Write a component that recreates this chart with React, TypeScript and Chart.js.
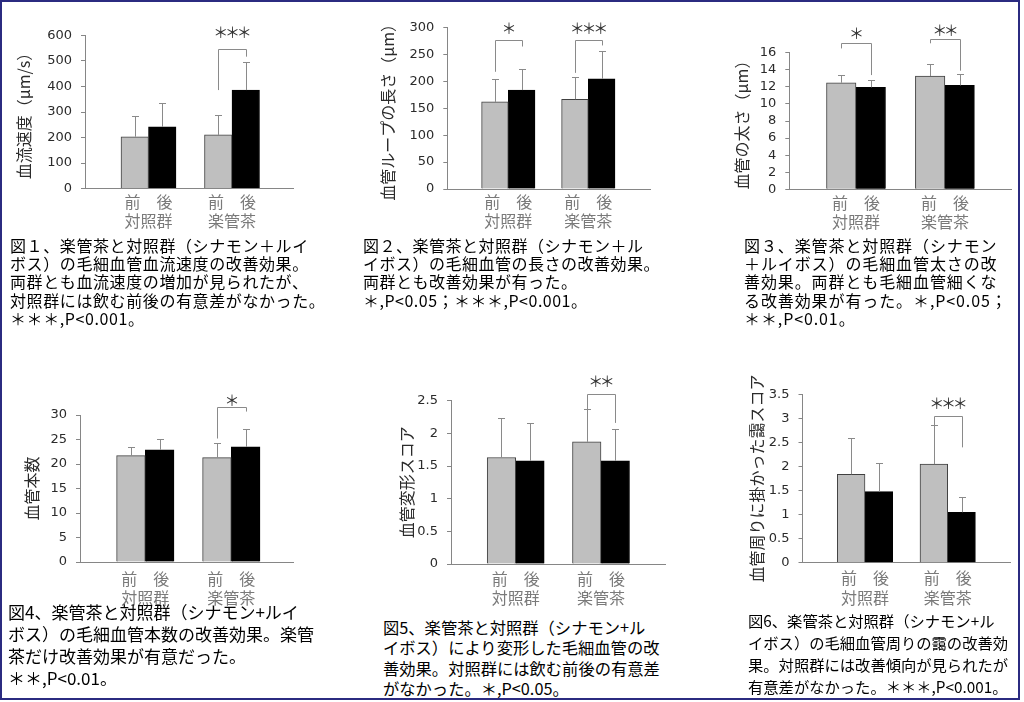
import React, { useEffect, useRef } from 'react';
import { Chart, registerables } from 'chart.js';

Chart.register(...registerables);

// ---------------- data ----------------
const GROUPS = ['対照群', '楽管茶'];
const PHASES = '前　後';

const TITLE_1 = '血流速度（μm/s）';
const YTICKS_1 = [0, 100, 200, 300, 400, 500, 600];
const BEFORE_1 = [203, 210];
const BEFORE_SD_1 = [81, 78];
const AFTER_1 = [242, 386];
const AFTER_SD_1 = [92, 111];
const SIG_1 = [{ group: 1, leftEnd: 386, top: 549, rightEnd: 517, mark: '＊＊＊', markAt: 612 }];

const TITLE_2 = '血管ループの長さ（μm）';
const YTICKS_2 = [0, 50, 100, 150, 200, 250, 300];
const BEFORE_2 = [162, 167];
const BEFORE_SD_2 = [43, 41];
const AFTER_2 = [184, 205];
const AFTER_SD_2 = [40, 52];
const SIG_2 = [
  { group: 0, leftEnd: 218, top: 277, rightEnd: 265, mark: '＊', markAt: 298 },
  { group: 1, leftEnd: 216, top: 278, rightEnd: 267, mark: '＊＊＊', markAt: 299 },
];

const TITLE_3 = '血管の太さ（μm）';
const YTICKS_3 = [0, 2, 4, 6, 8, 10, 12, 14, 16];
const BEFORE_3 = [12.48, 13.27];
const BEFORE_SD_3 = [0.87, 1.36];
const AFTER_3 = [11.94, 12.17];
const AFTER_SD_3 = [0.86, 1.33];
const SIG_3 = [
  { group: 0, leftEnd: 16.5, top: 17.1, rightEnd: 13.38, mark: '＊', markAt: 18.3 },
  { group: 1, leftEnd: 17.1, top: 17.56, rightEnd: 13.89, mark: '＊＊', markAt: 18.65 },
];

const TITLE_4 = '血管本数';
const YTICKS_4 = [0, 5, 10, 15, 20, 25, 30];
const BEFORE_4 = [21.7, 21.3];
const BEFORE_SD_4 = [1.7, 2.9];
const AFTER_4 = [22.9, 23.5];
const AFTER_SD_4 = [2.2, 3.7];
const SIG_4 = [{ group: 1, leftEnd: 25.2, top: 31.6, rightEnd: 30.7, mark: '＊', markAt: 32.9 }];

const TITLE_5 = '血管変形スコア';
const YTICKS_5 = [0, 0.5, 1, 1.5, 2, 2.5];
const BEFORE_5 = [1.63, 1.87];
const BEFORE_SD_5 = [0.61, 0.51];
const AFTER_5 = [1.58, 1.58];
const AFTER_SD_5 = [0.58, 0.49];
const SIG_5 = [{ group: 1, leftEnd: 2.32, top: 2.61, rightEnd: 2.16, mark: '＊＊', markAt: 2.8 }];

const TITLE_6 = '血管周りに掛かった靄スコア';
const YTICKS_6 = [0, 0.5, 1, 1.5, 2, 2.5, 3, 3.5];
const BEFORE_6 = [1.84, 2.05];
const BEFORE_SD_6 = [0.76, 0.81];
const AFTER_6 = [1.48, 1.05];
const AFTER_SD_6 = [0.59, 0.31];
const SIG_6 = [{ group: 1, leftEnd: 2.86, top: 3.06, rightEnd: 2.4, mark: '＊＊＊', markAt: 3.31 }];

const CAPTION_1 = [
  '図１、楽管茶と対照群（シナモン＋ルイ',
  'ボス）の毛細血管血流速度の改善効果。',
  '両群とも血流速度の増加が見られたが、',
  '対照群には飲む前後の有意差がなかった。',
  '＊＊＊,P<0.001。',
];
const CAPTION_2 = [
  '図２、楽管茶と対照群（シナモン＋ル',
  'イボス）の毛細血管の長さの改善効果。',
  '両群とも改善効果が有った。',
  '＊,P<0.05；＊＊＊,P<0.001。',
];
const CAPTION_3 = [
  '図３、楽管茶と対照群（シナモン',
  '＋ルイボス）の毛細血管太さの改',
  '善効果。両群とも毛細血管細くな',
  'る改善効果が有った。＊,P<0.05；',
  '＊＊,P<0.01。',
];
const CAPTION_4 = [
  '図4、楽管茶と対照群（シナモン+ルイ',
  'ボス）の毛細血管本数の改善効果。楽管',
  '茶だけ改善効果が有意だった。',
  '＊＊,P<0.01。',
];
const CAPTION_5 = [
  '図5、楽管茶と対照群（シナモン+ル',
  'イボス）により変形した毛細血管の改',
  '善効果。対照群には飲む前後の有意差',
  'がなかった。＊,P<0.05。',
];
const CAPTION_6 = [
  '図6、楽管茶と対照群（シナモン+ル',
  'イボス）の毛細血管周りの靄の改善効',
  '果。対照群には改善傾向が見られたが',
  '有意差がなかった。＊＊＊,P<0.001。',
];

// ---------------- layout / style ----------------
const PANELS = [
  { title: TITLE_1, yTicks: YTICKS_1, before: BEFORE_1, beforeSd: BEFORE_SD_1, after: AFTER_1, afterSd: AFTER_SD_1, sig: SIG_1 },
  { title: TITLE_2, yTicks: YTICKS_2, before: BEFORE_2, beforeSd: BEFORE_SD_2, after: AFTER_2, afterSd: AFTER_SD_2, sig: SIG_2 },
  { title: TITLE_3, yTicks: YTICKS_3, before: BEFORE_3, beforeSd: BEFORE_SD_3, after: AFTER_3, afterSd: AFTER_SD_3, sig: SIG_3 },
  { title: TITLE_4, yTicks: YTICKS_4, before: BEFORE_4, beforeSd: BEFORE_SD_4, after: AFTER_4, afterSd: AFTER_SD_4, sig: SIG_4 },
  { title: TITLE_5, yTicks: YTICKS_5, before: BEFORE_5, beforeSd: BEFORE_SD_5, after: AFTER_5, afterSd: AFTER_SD_5, sig: SIG_5 },
  { title: TITLE_6, yTicks: YTICKS_6, before: BEFORE_6, beforeSd: BEFORE_SD_6, after: AFTER_6, afterSd: AFTER_SD_6, sig: SIG_6 },
];

// box: canvas [l, t, r, b]; area: plot [L, T, R, B]; centers: group centres (px)
const LAYOUT = [
  { box: [4, 4, 300, 236], area: [85, 35.5, 293, 188.5], centers: [148.5, 232], barW: 27.5, titleX: 24, labelY: 202 },
  { box: [345, 4, 660, 236], area: [447.3, 27.7, 650, 189], centers: [508.3, 588.3], barW: 26.7, titleX: 388, labelY: 202 },
  { box: [700, 4, 1015, 236], area: [789.3, 52.7, 1011.7, 189.3], centers: [856, 944.9], barW: 29.5, titleX: 741.7, labelY: 202.7 },
  { box: [4, 372, 300, 612], area: [80, 415, 293, 562], centers: [145.3, 231.3], barW: 28.7, titleX: 31.7, labelY: 579 },
  { box: [345, 372, 672, 612], area: [451, 400.7, 665, 564], centers: [515.7, 601], barW: 28.5, titleX: 406.7, labelY: 579 },
  { box: [700, 366, 1015, 612], area: [802.5, 394.5, 1010, 562.7], centers: [865, 947.7], barW: 27.7, titleX: 756.7, labelY: 578.3 },
];

const CAPTIONS = [CAPTION_1, CAPTION_2, CAPTION_3, CAPTION_4, CAPTION_5, CAPTION_6];
const CAPTION_LAYOUT = [
  { left: 10, firstY: 245, size: 16, line: 18.3, spacing: 0.6 },
  { left: 363, firstY: 245, size: 16, line: 18.3, spacing: 0.5 },
  { left: 744, firstY: 245, size: 16, line: 18.3, spacing: 0.9 },
  { left: 8, firstY: 612, size: 17, line: 22, spacing: 0 },
  { left: 383, firstY: 627, size: 16.3, line: 20.5, spacing: 0 },
  { left: 748, firstY: 620, size: 15.3, line: 22, spacing: 0 },
];

const AXIS = '#868686';
const ERR = '#8a8a8a';
const TICK_TEXT = '#2b2b2b';
const CAT_TEXT = '#7a7a7a';
const CJK = '"Noto Sans CJK JP", sans-serif';
const TITLE_SIZE = 16;
const LABEL_SIZE = 16;
const STAR_STEP = 11.7;

const annotPlugin = {
  id: 'annot',
  afterDatasetsDraw(chart: any, _args: any, opts: any) {
    const { ctx } = chart;
    const y = chart.scales.y;
    const px = (v: number) => Math.round(v) + 0.5;
    ctx.save();
    ctx.strokeStyle = ERR;
    ctx.lineWidth = 1;
    // error bars (upper only)
    opts.errors.forEach((sds: number[], di: number) => {
      const meta = chart.getDatasetMeta(di);
      meta.data.forEach((bar: any, i: number) => {
        const v = chart.data.datasets[di].data[i].y;
        const x = px(bar.x);
        const yTop = px(y.getPixelForValue(v + sds[i]));
        ctx.beginPath();
        ctx.moveTo(x, bar.y);
        ctx.lineTo(x, yTop);
        ctx.moveTo(x - 3.5, yTop);
        ctx.lineTo(x + 3.5, yTop);
        ctx.stroke();
      });
    });
    // significance brackets
    opts.sig.forEach((s: any) => {
      const xl = px(chart.getDatasetMeta(0).data[s.group].x);
      const xr = px(chart.getDatasetMeta(1).data[s.group].x);
      const yl = y.getPixelForValue(s.leftEnd);
      const yt = px(y.getPixelForValue(s.top));
      const yr = y.getPixelForValue(s.rightEnd);
      ctx.strokeStyle = ERR;
      ctx.beginPath();
      ctx.moveTo(xl, yl);
      ctx.lineTo(xl, yt);
      ctx.lineTo(xr, yt);
      ctx.lineTo(xr, yr);
      ctx.stroke();
      ctx.fillStyle = '#333333';
      ctx.font = `15px ${CJK}`;
      ctx.textAlign = 'center';
      ctx.textBaseline = 'middle';
      const chars = Array.from(s.mark as string);
      const cx = (xl + xr) / 2;
      const cy = y.getPixelForValue(s.markAt);
      chars.forEach((ch, k) => {
        ctx.fillText(ch, cx + (k - (chars.length - 1) / 2) * STAR_STEP, cy);
      });
    });
    ctx.restore();
  },
};

function buildConfig(p: any, lay: any) {
  const [cl, ct, cr, cb] = lay.box;
  const [L, T, R, B] = lay.area;
  const titleLH = TITLE_SIZE * 1.2;
  const padLeft = lay.titleX - cl - 4 - titleLH / 2;
  const yWidth = L - cl - padLeft;
  const xHeight = cb - B;
  const padTop = T - ct;
  const padRight = cr - R;
  const [c1, c2] = lay.centers;
  const u = c2 - c1;
  const xmin = 1 - (c1 - L) / u;
  const xmax = 2 + (R - c2) / u;
  const labelLH = LABEL_SIZE * 1.2;
  const labelPad = lay.labelY - B - labelLH / 2;

  const toPts = (arr: number[]) => arr.map((v, i) => ({ x: i + 1, y: v }));

  return {
    type: 'bar',
    data: {
      datasets: [
        {
          label: '前',
          data: toPts(p.before),
          backgroundColor: '#bfbfbf',
          borderColor: '#404040',
          borderWidth: 1,
          barThickness: lay.barW,
        },
        {
          label: '後',
          data: toPts(p.after),
          backgroundColor: '#000000',
          borderColor: '#000000',
          borderWidth: 1,
          barThickness: lay.barW,
        },
      ],
    },
    options: {
      responsive: false,
      animation: false,
      events: [],
      layout: { padding: { left: padLeft, top: padTop, right: padRight, bottom: 0 } },
      plugins: {
        legend: { display: false },
        tooltip: { enabled: false },
        annot: { errors: [p.beforeSd, p.afterSd], sig: p.sig },
      },
      scales: {
        x: {
          type: 'linear',
          min: xmin,
          max: xmax,
          offset: false,
          grid: { display: false, offset: false, drawTicks: false, tickLength: 0 },
          border: { display: true, color: AXIS, width: 1 },
          ticks: {
            color: CAT_TEXT,
            font: { family: CJK, size: LABEL_SIZE, lineHeight: 1.2 },
            padding: labelPad,
            maxRotation: 0,
            autoSkip: false,
            callback: (v: number) => [PHASES, GROUPS[Math.round(v) - 1]],
          },
          afterBuildTicks: (s: any) => {
            s.ticks = GROUPS.map((_, i) => ({ value: i + 1 }));
          },
          afterFit: (s: any) => {
            s.height = xHeight;
          },
        },
        y: {
          type: 'linear',
          min: p.yTicks[0],
          max: p.yTicks[p.yTicks.length - 1],
          grid: { display: true, drawOnChartArea: false, drawTicks: true, tickLength: 4, color: AXIS },
          border: { display: true, color: AXIS, width: 1 },
          ticks: {
            color: TICK_TEXT,
            font: { family: '"DejaVu Sans", sans-serif', size: 13 },
            padding: 9,
            autoSkip: false,
            callback: (v: number) => String(v),
          },
          title: {
            display: true,
            text: p.title,
            color: '#2b2b2b',
            font: { family: CJK, size: TITLE_SIZE, lineHeight: 1.2 },
            padding: { top: 4, bottom: 4 },
          },
          afterBuildTicks: (s: any) => {
            s.ticks = p.yTicks.map((v: number) => ({ value: v }));
          },
          afterFit: (s: any) => {
            s.width = yWidth;
          },
        },
      },
    },
    plugins: [annotPlugin],
  };
}

function Panel({ p, lay }: { p: any; lay: any }) {
  const ref = useRef<HTMLCanvasElement>(null);
  const [cl, ct, cr, cb] = lay.box;
  const w = cr - cl;
  const h = cb - ct;
  useEffect(() => {
    const chart = new Chart(ref.current as HTMLCanvasElement, buildConfig(p, lay) as any);
    return () => chart.destroy();
  }, []);
  return (
    <canvas
      ref={ref}
      width={w}
      height={h}
      style={{ position: 'absolute', left: cl, top: ct, width: w, height: h }}
    />
  );
}

function Caption({ lines, c }: { lines: string[]; c: any }) {
  return (
    <div
      style={{
        position: 'absolute',
        left: c.left,
        top: c.firstY - c.line / 2,
        fontFamily: CJK,
        fontSize: c.size,
        lineHeight: `${c.line}px`,
        letterSpacing: c.spacing,
        whiteSpace: 'pre',
        color: '#000000',
      }}
    >
      {lines.map((l, i) => (
        <div key={i}>{l}</div>
      ))}
    </div>
  );
}

export default function App() {
  return (
    <div style={{ position: 'absolute', left: 0, top: 0, width: 1024, height: 702, background: '#ffffff', overflow: 'hidden' }}>
      {PANELS.map((p, i) => (
        <Panel key={i} p={p} lay={LAYOUT[i]} />
      ))}
      {CAPTIONS.map((lines, i) => (
        <Caption key={i} lines={lines} c={CAPTION_LAYOUT[i]} />
      ))}
      <div
        style={{
          position: 'absolute',
          left: 0,
          top: 0,
          width: 1020,
          height: 700,
          border: '2px solid #2b2b80',
          boxSizing: 'border-box',
          pointerEvents: 'none',
        }}
      />
    </div>
  );
}
